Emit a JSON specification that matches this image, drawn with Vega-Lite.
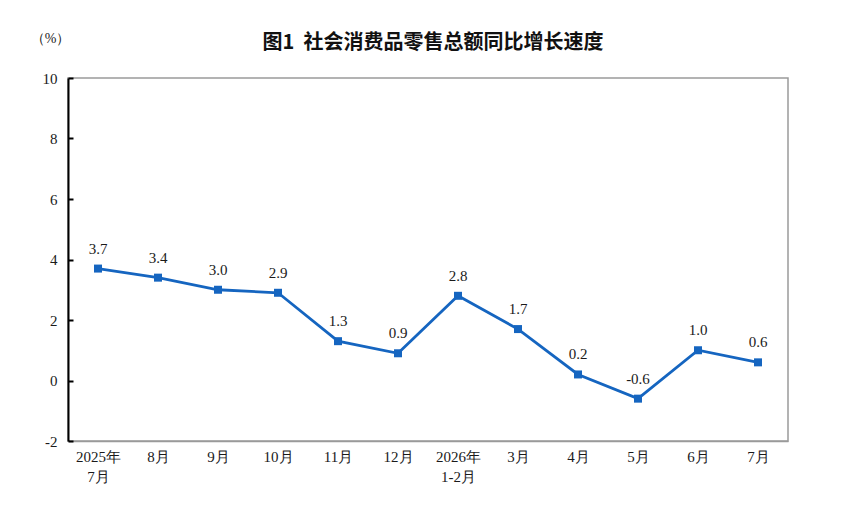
{
  "$schema": "https://vega.github.io/schema/vega-lite/v6.json",
  "width": 720,
  "height": 363,
  "autosize": {"type": "none"},
  "padding": {"left": 68, "top": 78, "right": 58, "bottom": 66},
  "background": "white",
  "title": {
    "text": "图1\u00a0\u00a0社会消费品零售总额同比增长速度",
    "font": "Noto Sans CJK SC",
    "fontSize": 20,
    "fontWeight": "bold",
    "color": "#111",
    "anchor": "middle",
    "dx": 5,
    "offset": -22
  },
  "config": {
    "view": {"stroke": "#9a9a9a", "strokeWidth": 1.5},
    "axis": {"labelFont": "Liberation Serif", "labelFontSize": 15, "labelColor": "#1a1a1a", "grid": false}
  },
  "data": {
    "values": [
      {"month": "2025年|7月", "value": 3.7},
      {"month": "8月", "value": 3.4},
      {"month": "9月", "value": 3.0},
      {"month": "10月", "value": 2.9},
      {"month": "11月", "value": 1.3},
      {"month": "12月", "value": 0.9},
      {"month": "2026年|1-2月", "value": 2.8},
      {"month": "3月", "value": 1.7},
      {"month": "4月", "value": 0.2},
      {"month": "5月", "value": -0.6},
      {"month": "6月", "value": 1.0},
      {"month": "7月", "value": 0.6}
    ]
  },
  "transform": [
    {"calculate": "(datum.value < 0 ? '-' : '') + format(abs(datum.value), '.1f')", "as": "label"}
  ],
  "encoding": {
    "x": {
      "field": "month",
      "type": "ordinal",
      "sort": null,
      "scale": {"type": "point", "padding": 0.5},
      "axis": {
        "title": null,
        "labelAngle": 0,
        "ticks": false,
        "domainColor": "#9a9a9a",
        "domainWidth": 1.5,
        "labelPadding": 8,
        "labelExpr": "split(datum.label, '|')",
        "labelLineHeight": 20
      }
    },
    "y": {
      "field": "value",
      "type": "quantitative",
      "scale": {"domain": [-2, 10]},
      "axis": {
        "values": [-2, 0, 2, 4, 6, 8, 10],
        "labelExpr": "datum.value < 0 ? '-' + abs(datum.value) : datum.label",
        "domainColor": "#000",
        "domainWidth": 2,
        "tickColor": "#000",
        "tickWidth": 2,
        "tickSize": -5,
        "labelPadding": 16,
        "title": "（%）",
        "titleAngle": 0,
        "titleFont": "Liberation Serif",
        "titleFontSize": 14,
        "titleFontWeight": "normal",
        "titleColor": "#222",
        "titleX": -18,
        "titleY": -40,
        "titleAlign": "center",
        "titleBaseline": "middle"
      }
    }
  },
  "layer": [
    {
      "mark": {"type": "line", "color": "#1565c0", "strokeWidth": 2.8}
    },
    {
      "mark": {"type": "square", "color": "#1565c0", "size": 64, "opacity": 1, "filled": true}
    },
    {
      "mark": {"type": "text", "font": "Liberation Serif", "fontSize": 15, "color": "#1a1a1a", "dy": -20},
      "encoding": {"text": {"field": "label", "type": "nominal"}}
    }
  ]
}
